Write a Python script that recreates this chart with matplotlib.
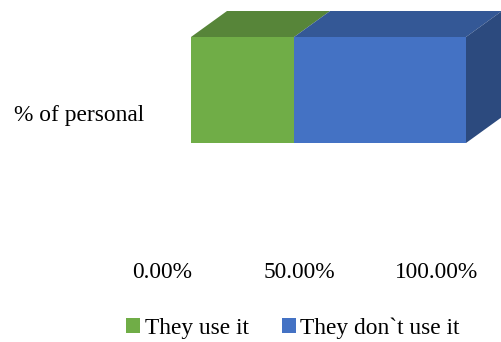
import matplotlib
matplotlib.use("Agg")
import matplotlib.pyplot as plt
from matplotlib.patches import Polygon, Patch
from matplotlib.transforms import ScaledTranslation

# Share of staff, stacked in one 3D-looking bar
category = "% of personal"
series = ["They use it", "They don`t use it"]
shares = [0.375, 0.625]
tick_values = [0.0, 0.5, 1.0]
tick_labels = ["0.00%", "50.00%", "100.00%"]

front_colors = ["#70ad47", "#4472c4"]
top_colors = ["#578539", "#345896"]
side_color = "#2c4a7e"

plt.rcParams['font.family'] = ['Liberation Serif', 'DejaVu Serif']
FS = 16.8

fig = plt.figure(figsize=(5.01, 3.42), dpi=100)
W, H = 501, 342
# axes box = front face of the bar (pixels 191..466 wide, 37..143 tall)
ax = fig.add_axes([191 / W, (H - 143) / H, 275 / W, 106 / H])
ax.set_xlim(0, 1)
ax.set_ylim(-0.5, 0.5)

# depth of the box in data units
dx, dy = 36 / 275, 26 / 106

left = 0.0
for name, val, fc, tc in zip(series, shares, front_colors, top_colors):
    ax.barh(0, val, left=left, height=1.0, color=fc, edgecolor='none')
    top = Polygon([(left, 0.5), (left + val, 0.5),
                   (left + val + dx, 0.5 + dy), (left + dx, 0.5 + dy)],
                  closed=True, facecolor=tc, edgecolor='none', clip_on=False)
    ax.add_patch(top)
    left += val

side = Polygon([(left, -0.5), (left, 0.5), (left + dx, 0.5 + dy), (left + dx, -0.5 + dy)],
               closed=True, facecolor=side_color, edgecolor='none', clip_on=False)
ax.add_patch(side)

for s in ax.spines.values():
    s.set_visible(False)

ax.set_xticks(tick_values)
ax.set_xticklabels(tick_labels, fontsize=FS)
ax.tick_params(axis='x', length=0, pad=86)
for lbl in ax.get_xticklabels():
    lbl.set_transform(lbl.get_transform() + ScaledTranslation(-0.29, 0, fig.dpi_scale_trans))

ax.set_yticks([0])
ax.set_yticklabels([category], fontsize=FS)
ax.tick_params(axis='y', length=0, pad=34)
for lbl in ax.get_yticklabels():
    lbl.set_transform(lbl.get_transform() + ScaledTranslation(0, -0.23, fig.dpi_scale_trans))

handles = [Patch(facecolor=c, edgecolor='none') for c in front_colors]
fig.legend(handles, series, loc='center', bbox_to_anchor=(293 / W, 1 - 328 / H),
           ncol=2, frameon=False, fontsize=FS, handlelength=0.6, handleheight=0.6,
           handletextpad=0.2, columnspacing=1.4, borderaxespad=0)

fig.savefig("out.png", dpi=100)
